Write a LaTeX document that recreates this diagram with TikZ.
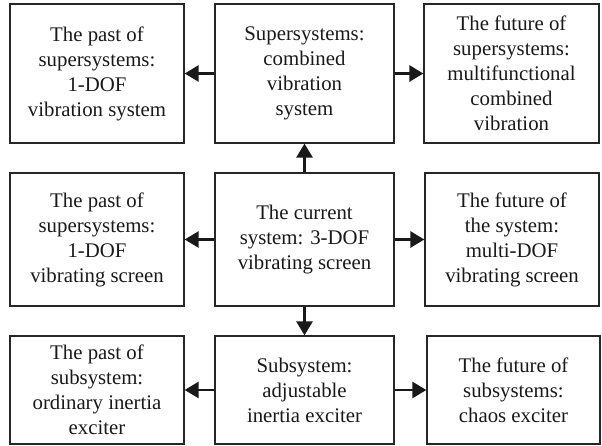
\documentclass[tikz,border=0pt]{standalone}
\usepackage{fontspec}
\setmainfont{Liberation Serif}
\usetikzlibrary{arrows.meta}
\begin{document}
\begin{tikzpicture}[x=1pt,y=-1pt,
  box/.style={draw=black!85,line width=1.2pt,align=center,inner sep=0pt,
    font=\fontsize{20.8}{25}\selectfont,text=black!90},
  arr/.style={draw=black!90,line width=2.6pt,-{Triangle[length=14pt,width=16pt]}}]
\useasboundingbox (0,0) rectangle (602,446);
% top row
\node[box,minimum width=174pt,minimum height=139pt] (tl) at (97,73.5) {The past of\\supersystems:\\1-DOF\\vibration system};
\node[box,minimum width=179pt,minimum height=139pt] (tm) at (304.5,73.5) {Supersystems:\\combined\\vibration\\system};
\node[box,minimum width=175pt,minimum height=139pt] (tr) at (511.5,73.5) {The future of\\supersystems:\\multifunctional\\combined\\vibration};
% middle row
\node[box,minimum width=174pt,minimum height=133pt] (ml) at (97,239.5) {The past of\\supersystems:\\1-DOF\\vibrating screen};
\node[box,minimum width=179pt,minimum height=133pt] (mm) at (304.5,239.5) {The current\\system: 3-DOF\\vibrating screen};
\node[box,minimum width=174pt,minimum height=133pt] (mr) at (512,239.5) {The future of\\the system:\\multi-DOF\\vibrating screen};
% bottom row
\node[box,minimum width=174pt,minimum height=108pt] (bl) at (97,390) {The past of\\subsystem:\\ordinary inertia\\exciter};
\node[box,minimum width=179pt,minimum height=108pt] (bm) at (304.5,390) {Subsystem:\\adjustable\\inertia exciter};
\node[box,minimum width=173pt,minimum height=108pt] (br) at (513.5,390) {The future of\\subsystems:\\chaos exciter};
% arrows
\draw[arr] (tm.west) -- (tl.east);
\draw[arr] (tm.east) -- (tr.west);
\draw[arr] (mm.west) -- (ml.east);
\draw[arr] (mm.east) -- (mr.west);
\draw[arr] (mm.north) -- (tm.south);
\draw[arr] (mm.south) -- (bm.north);
\draw[arr] (bm.west) -- (bl.east);
\draw[arr] (bm.east) -- (br.west);
\end{tikzpicture}
\end{document}
